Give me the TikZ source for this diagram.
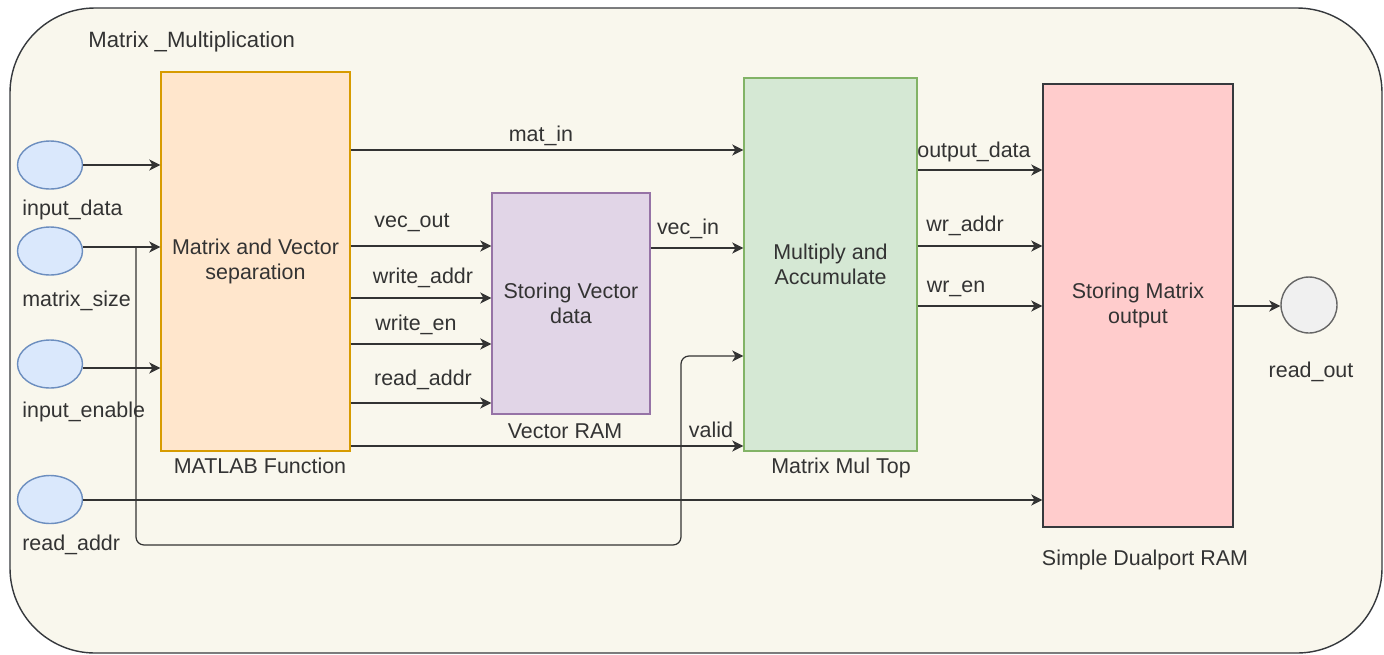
\documentclass[tikz,border=0pt]{standalone}
\usepackage{fontspec}
\setmainfont{Liberation Sans}
\usetikzlibrary{arrows.meta,shapes.geometric,calc}
\definecolor{txt}{HTML}{333333}
\definecolor{linec}{HTML}{333333}
\definecolor{outerf}{HTML}{F9F7ED}
\definecolor{outerd}{HTML}{36393D}
\definecolor{matf}{HTML}{FFE6CC}
\definecolor{matd}{HTML}{D79B00}
\definecolor{vecf}{HTML}{E1D5E7}
\definecolor{vecd}{HTML}{9673A6}
\definecolor{mulf}{HTML}{D5E8D4}
\definecolor{muld}{HTML}{82B366}
\definecolor{ramf}{HTML}{FFCCCC}
\definecolor{ramd}{HTML}{36393D}
\definecolor{portf}{HTML}{DAE8FC}
\definecolor{portd}{HTML}{6C8EBF}
\definecolor{outf}{HTML}{F0F0F0}
\definecolor{outd}{HTML}{666666}
\begin{document}
\begin{tikzpicture}[x=0.02cm,y=-0.02cm,
  font=\fontsize{12.2}{14.2}\selectfont,
  arr/.style={draw=linec, line width=0.7pt, -{Stealth[length=6.3pt,width=6.3pt,inset=1.8pt]}},
  lbl/.style={inner sep=0pt, text=txt},
  blk/.style={rectangle, line width=0.8pt, align=center, inner sep=0pt, text=txt},
  port/.style={ellipse, draw=portd, fill=portf, line width=0.8pt, minimum width=1.3cm, minimum height=0.96cm, inner sep=0pt},
  outport/.style={circle, draw=outd, fill=outf, line width=0.8pt, minimum size=1.12cm, inner sep=0pt}]
\useasboundingbox (0,0) rectangle (1384,654);
% container
\draw[draw=outerd, fill=outerf, line width=0.8pt, rounded corners=1.7cm] (10,8) rectangle (1382,653);
\node[lbl, anchor=west, font=\fontsize{12.6}{14.2}\selectfont] (title) at (88,42) {Matrix \_Multiplication};

% blocks
\node[blk, draw=matd, fill=matf, minimum width=3.78cm, minimum height=7.58cm] (mat) at (255.5,261.5) {Matrix and Vector\\separation};
\node[blk, draw=vecd, fill=vecf, minimum width=3.16cm, minimum height=4.42cm] (vec) at (571,303.5) {Storing Vector\\data};
\node[blk, draw=muld, fill=mulf, minimum width=3.46cm, minimum height=7.46cm] (mul) at (830.5,264.5) {Multiply and\\Accumulate};
\node[blk, draw=ramd, fill=ramf, minimum width=3.8cm, minimum height=8.86cm] (ram) at (1138,305.5) {Storing Matrix\\output};

\node[lbl] (matlbl) at (260,466) {MATLAB Function};
\node[lbl] (veclbl) at (565,431) {Vector RAM};
\node[lbl] (mullbl) at (841,468) {Matrix Mul Top};
\node[lbl] (ramlbl) at (1145,560) {Simple Dualport RAM};

% ports
\node[port] (id) at (50,165) {};
\node[port] (ms) at (50,251) {};
\node[port] (ie) at (50,364) {};
\node[port] (ra) at (50,499.5) {};
\node[lbl, anchor=west] (idl) at (22,210) {input\_data};
\node[lbl, anchor=west] (msl) at (22,301) {matrix\_size};
\node[lbl, anchor=west] (iel) at (22,412) {input\_enable};
\node[lbl, anchor=west] (ral) at (22,545) {read\_addr};

\node[outport] (ro) at (1309,305) {};
\node[lbl] (rol) at (1311,372) {read\_out};

% input connectors
\draw[arr] (id.east |- 0,165) -- (mat.west |- 0,165);
\draw[arr] (ms.east |- 0,247) -- (mat.west |- 0,247);
\draw[arr] (ie.east |- 0,368) -- (mat.west |- 0,368);
\draw[arr] (ra.east |- 0,500) -- (ram.west |- 0,500);
\coordinate (vb) at (136,247);
\coordinate (vc) at (681,545);
\draw[arr, rounded corners=0.16cm] (vb) |- (vc) |- (mul.west |- 0,356);

% matlab outputs
\draw[arr] (mat.east |- 0,150) -- (mul.west |- 0,150);
\node[lbl] (l1) at (541,136) {mat\_in};
\draw[arr] (mat.east |- 0,246) -- (vec.west |- 0,246);
\node[lbl] (l2) at (412,223) {vec\_out};
\draw[arr] (mat.east |- 0,298) -- (vec.west |- 0,298);
\node[lbl] (l3) at (423,278) {write\_addr};
\draw[arr] (mat.east |- 0,344) -- (vec.west |- 0,344);
\node[lbl] (l4) at (416,325) {write\_en};
\draw[arr] (mat.east |- 0,403) -- (vec.west |- 0,403);
\node[lbl] (l5) at (423,380) {read\_addr};
\draw[arr] (mat.east |- 0,446) -- (mul.west |- 0,446);
\node[lbl] (l6) at (711,430) {valid};

% vector ram output
\draw[arr] (vec.east |- 0,248) -- (mul.west |- 0,248);
\node[lbl] (l7) at (688,229) {vec\_in};

% mac outputs
\draw[arr] (mul.east |- 0,170) -- (ram.west |- 0,170);
\node[lbl] (l8) at (974,152) {output\_data};
\draw[arr] (mul.east |- 0,246) -- (ram.west |- 0,246);
\node[lbl] (l9) at (965,226) {wr\_addr};
\draw[arr] (mul.east |- 0,306) -- (ram.west |- 0,306);
\node[lbl] (l10) at (956,289) {wr\_en};

% ram output
\draw[arr] (ram.east |- 0,306) -- (ro.west |- 0,306);
\end{tikzpicture}
\end{document}
